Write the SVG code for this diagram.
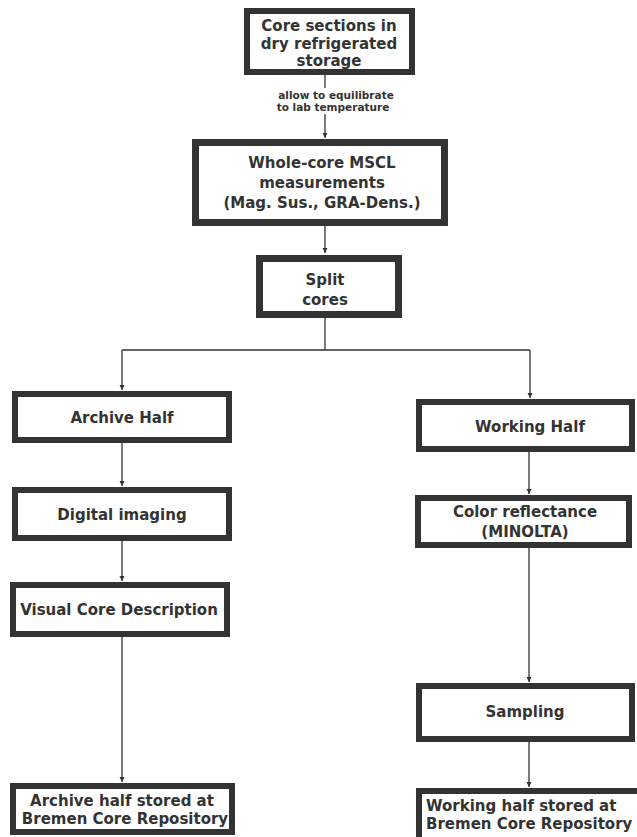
<svg xmlns="http://www.w3.org/2000/svg" width="637" height="837" viewBox="0 0 637 837">
<style>
.box{fill:#fff;stroke:#333;stroke-width:6}
.t{font-family:"DejaVu Sans",Verdana,sans-serif;font-weight:bold;font-size:15px;fill:#333;text-anchor:middle}
.s{font-family:"DejaVu Sans",Verdana,sans-serif;font-weight:bold;font-size:10.5px;fill:#333;text-anchor:middle}
.c{fill:none;stroke:#333;stroke-width:1.3}
</style>
<defs>
<marker id="ah" markerWidth="6" markerHeight="6" refX="5" refY="3" orient="auto" markerUnits="userSpaceOnUse">
<path d="M0,0.5 L5,3 L0,5.5 Z" fill="#333"/>
</marker>
</defs>
<rect width="637" height="837" fill="#fff"/>
<g id="connectors">
<path class="c" d="M325,75 V88"/>
<path class="c" d="M325,114 V138" marker-end="url(#ah)"/>
<text class="s" x="336" y="99">allow to equilibrate</text>
<text class="s" x="333" y="111">to lab temperature</text>
<path class="c" d="M325,226 V253" marker-end="url(#ah)"/>
<path class="c" d="M325,318 V350 M122,350 H530"/>
<path class="c" d="M122,350 V390" marker-end="url(#ah)"/>
<path class="c" d="M530,350 V398" marker-end="url(#ah)"/>
<path class="c" d="M122,443 V486" marker-end="url(#ah)"/>
<path class="c" d="M122,541 V581" marker-end="url(#ah)"/>
<path class="c" d="M122,637 V782" marker-end="url(#ah)"/>
<path class="c" d="M529,452 V494" marker-end="url(#ah)"/>
<path class="c" d="M529,548 V682" marker-end="url(#ah)"/>
<path class="c" d="M529,742 V787" marker-end="url(#ah)"/>
</g>
<g id="n1">
<rect class="box" x="247" y="11" width="165" height="61"/>
<text class="t" x="329" y="31">Core sections in</text>
<text class="t" x="329" y="48.5">dry refrigerated</text>
<text class="t" x="329" y="66">storage</text>
</g>
<g id="n2">
<rect class="box" x="195.5" y="142.5" width="249" height="80" style="stroke-width:7"/>
<text class="t" x="322" y="168">Whole-core MSCL</text>
<text class="t" x="322" y="188">measurements</text>
<text class="t" x="322" y="208">(Mag. Sus., GRA-Dens.)</text>
</g>
<g id="n3">
<rect class="box" x="259.5" y="258.5" width="139" height="56" style="stroke-width:7"/>
<text class="t" x="325" y="285">Split</text>
<text class="t" x="325" y="305">cores</text>
</g>
<g id="n4">
<rect class="box" x="15" y="394" width="214" height="46"/>
<text class="t" x="122" y="423">Archive Half</text>
</g>
<g id="n5">
<rect class="box" x="15" y="490" width="214" height="48"/>
<text class="t" x="122" y="520">Digital imaging</text>
</g>
<g id="n6">
<rect class="box" x="13" y="585" width="214" height="49"/>
<text class="t" x="119" y="615">Visual Core Description</text>
</g>
<g id="n7">
<rect class="box" x="13" y="786" width="219" height="46"/>
<text class="t" x="122" y="806">Archive half stored at</text>
<text class="t" x="125" y="824">Bremen Core Repository</text>
</g>
<g id="n8">
<rect class="box" x="419" y="402" width="213" height="47"/>
<text class="t" x="530" y="432">Working Half</text>
</g>
<g id="n9">
<rect class="box" x="418" y="498" width="211" height="47"/>
<text class="t" x="525" y="517">Color reflectance</text>
<text class="t" x="525" y="537">(MINOLTA)</text>
</g>
<g id="n10">
<rect class="box" x="419" y="686" width="213" height="53"/>
<text class="t" x="525" y="717">Sampling</text>
</g>
<g id="n11">
<rect class="box" x="419" y="791" width="230" height="60"/>
<text class="t" x="426" y="811" style="text-anchor:start">Working half stored at</text>
<text class="t" x="426" y="829" style="text-anchor:start">Bremen Core Repository</text>
</g>
</svg>
